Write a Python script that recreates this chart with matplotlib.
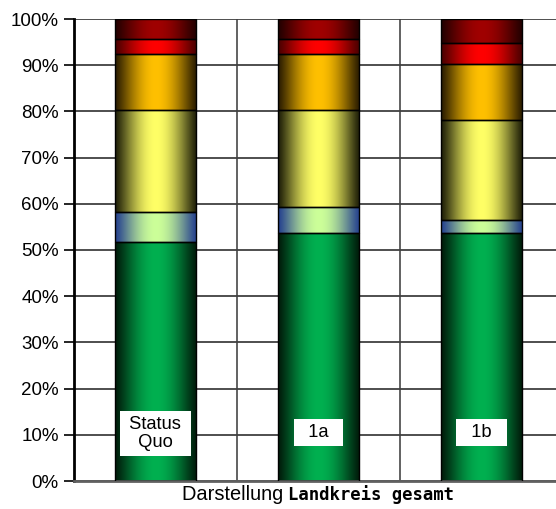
import numpy as np
import matplotlib.pyplot as plt
from matplotlib.offsetbox import TextArea, HPacker, AnnotationBbox

plt.rcParams['font.family'] = ['Liberation Sans', 'DejaVu Sans']

# shares per scenario (percent), bottom to top
scenarios = ['Status\nQuo', '1a', '1b']
green = [51.7, 53.6, 53.6]
lightgreen = [6.5, 5.8, 3.0]
yellow = [22.0, 20.8, 21.5]
orange = [12.2, 12.2, 12.1]
red = [3.2, 3.2, 4.7]
darkred = [4.4, 4.4, 5.1]

series = [green, lightgreen, yellow, orange, red, darkred]
# (centre colour, edge colour) for the cylinder shading
shades = [('#00B050', '#001a0a'),
          ('#CCFF99', '#24408f'),
          ('#FFFF66', '#1e1e08'),
          ('#FFC000', '#2a1c00'),
          ('#FF0000', '#4a0000'),
          ('#A00000', '#220000')]


def hex2rgb(h):
    h = h.lstrip('#')
    return np.array([int(h[i:i + 2], 16) for i in (0, 2, 4)]) / 255.0


def gradient(c_mid, c_edge, n=200):
    t = np.linspace(0, 1, n)
    f = np.sin(np.pi * t) ** 1.2
    a, b = hex2rgb(c_mid), hex2rgb(c_edge)
    return (b[None, :] + (a - b)[None, :] * f[:, None])[None, :, :]


fig = plt.figure(figsize=(5.56, 5.09), dpi=100, facecolor='white')
ax = fig.add_axes([74 / 556, 28 / 509, 489 / 556, 462 / 509])

x = np.arange(len(scenarios))
bottom = np.zeros(len(scenarios))
for vals, (cm, ce) in zip(series, shades):
    bars = ax.bar(x, vals, 0.5, bottom=bottom, color='none',
                  edgecolor='black', linewidth=1.0, zorder=3)
    for p in bars:
        x0, y0, w, h = p.get_x(), p.get_y(), p.get_width(), p.get_height()
        im = ax.imshow(gradient(cm, ce), extent=[x0, x0 + w, y0, y0 + h],
                       aspect='auto', interpolation='bilinear', zorder=2)
        im.set_clip_path(p)
    bottom += np.array(vals)

for xi, name in zip(x, scenarios):
    if '\n' in name:
        label = '\n'.join(' ' + s + ' ' for s in name.split('\n'))
        yl = 10.3
    else:
        label = '  ' + name + '  '
        yl = 10.5
    ax.text(xi, yl, label, ha='center', va='center', fontsize=13.2,
            zorder=5, linespacing=1.1,
            bbox=dict(boxstyle='square,pad=0.25', fc='white', ec='none'))

ax.set_xlim(-0.5, 2.5)
ax.set_ylim(0, 100)
ax.set_yticks(np.arange(0, 101, 10))
ax.set_yticklabels([f'{v}%' for v in range(0, 101, 10)], fontsize=13.5)
ax.set_xticks([])
ax.tick_params(axis='y', length=7, width=1.2, direction='out', pad=4)

ax.grid(axis='y', color='#404040', linewidth=1.3, zorder=0)
ax.set_axisbelow(True)
for xv in [0.5, 1.5]:
    ax.axvline(xv, color='#555555', linewidth=1.3, zorder=0)

for s in ['top', 'right']:
    ax.spines[s].set_visible(False)
ax.spines['left'].set_linewidth(2)
ax.spines['left'].set_color('black')
ax.spines['bottom'].set_linewidth(2)
ax.spines['bottom'].set_color('#606060')

t1 = TextArea('Darstellung ', textprops=dict(fontsize=14.4, family='Liberation Sans'))
t2 = TextArea('Landkreis gesamt', textprops=dict(fontsize=12.4, family='DejaVu Sans Mono',
                                                 weight='bold'))
box = HPacker(children=[t1, t2], align='baseline', pad=0, sep=0)
ab = AnnotationBbox(box, (318 / 556, 15 / 509), xycoords='figure fraction',
                    frameon=False, box_alignment=(0.5, 0.5))
fig.add_artist(ab)

fig.savefig('out.png', dpi=100, facecolor='white')
